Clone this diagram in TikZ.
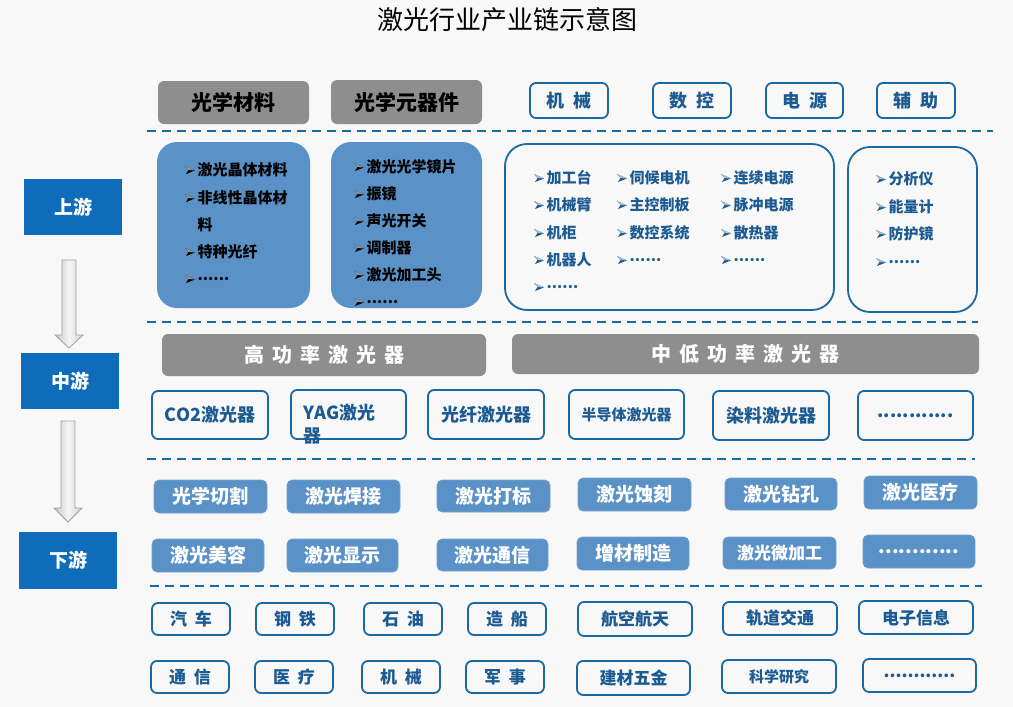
\documentclass[tikz,border=0pt]{standalone}
\usepackage{fontspec}
\newfontfamily\cjk{Noto Sans CJK SC}
\definecolor{bg}{HTML}{F8F8F8}
\definecolor{dblue}{HTML}{0F6CBA}
\definecolor{lblue}{HTML}{5A92C8}
\definecolor{oblue}{HTML}{1A69A2}
\definecolor{tblue}{HTML}{1C5A92}
\definecolor{gbar}{HTML}{8E8E8E}
\newcommand\fs[1]{\fontsize{#1}{#1}\selectfont}
\newcommand\mybox[7]{\node[#1, minimum width={#4-#2}, minimum height={#5-#3}, inner sep=0pt] (#6) at ({(#2+#4)/2},{(#3+#5)/2}) {#7};}
\newcommand\li[5]{\coordinate (#1b) at (#2,#3);
  \fill[#4] ($(#1b)+(-1,-4)$) -- ($(#1b)+(9,0.5)$) -- ($(#1b)+(0,4)$) -- ($(#1b)+(2.5,0)$) -- cycle;
  \fill[#4!40!white] ($(#1b)+(-1,-4)$) -- ($(#1b)+(9,0.5)$) -- ($(#1b)+(2.5,0)$) -- cycle;
  \node[itm, text=#4] (#1) at (#2+11.5,#3) {#5};}
\newcommand\sq{\hspace{8pt}}
\usetikzlibrary{calc}
\begin{document}
\begin{tikzpicture}[x=1pt,y=-1pt,
  lvl/.style={fill=dblue, text=white, font=\cjk\bfseries\fs{19}},
  ghead/.style={fill=gbar, rounded corners=6pt, text=black, font=\cjk\bfseries\fs{21}},
  gband/.style={fill=gbar, rounded corners=6pt, text=white, font=\cjk\bfseries\fs{20}},
  obox/.style={draw=oblue, line width=1.8pt, rounded corners=6pt, text=tblue, font=\cjk\bfseries\fs{18}},
  ibox/.style={obox, font=\cjk\bfseries\fs{17}},
  fbox/.style={fill=lblue, draw=lblue!85!white, line width=0.6pt, rounded corners=5pt, text=white, font=\cjk\bfseries\fs{19}},
  bigf/.style={fill=lblue, rounded corners=20pt},
  bigo/.style={draw=oblue, line width=1.8pt, rounded corners=22pt},
  itm/.style={font=\cjk\bfseries\fs{15}, inner sep=0pt, anchor=west},
  dline/.style={draw=oblue, line width=2.6pt, dash pattern=on 9pt off 6pt},
  garrow/.style={draw=gray!75, line width=0.8pt, left color=gray!45, right color=gray!35, middle color=gray!8}
]
\fill[bg] (0,0) rectangle (1013,707);
\useasboundingbox (0,0) rectangle (1013,707);

% title
\node[font=\cjk\fs{26}] (title) at (507,20) {激光行业产业链示意图};

% level blocks
\mybox{lvl}{24}{179}{122}{235}{up}{上游}
\mybox{lvl}{21}{353}{119}{409}{mid}{中游}
\mybox{lvl}{19}{532}{117}{589}{down}{下游}
\draw[garrow] (62,260) -- (76,260) -- (76,335) -- (83,335) -- (69,348) -- (55,335) -- (62,335) -- cycle;
\draw[garrow] (61,421) -- (75,421) -- (75,508) -- (82,508) -- (68,522) -- (54,508) -- (61,508) -- cycle;

% dashed separators
\draw[dline] (147,131) -- (993,131);
\draw[dline] (147,322) -- (978,322);
\draw[dline] (147,459) -- (975,459);
\draw[dline] (150,586) -- (982,586);

% top headers
\mybox{ghead}{158}{81}{309}{124}{h1}{光学材料}
\mybox{ghead}{331}{80}{482}{124}{h2}{光学元器件}
\mybox{obox}{530}{83}{608}{118}{h3}{机\hspace{9pt}械}
\mybox{obox}{653}{83}{731}{118}{h4}{数\hspace{9pt}控}
\mybox{obox}{766}{83}{843}{118}{h5}{电\hspace{9pt}源}
\mybox{obox}{877}{83}{955}{118}{h6}{辅\hspace{9pt}助}

% upstream boxes
\mybox{bigf}{157}{142}{310}{308}{ua}{}
\mybox{bigf}{331}{142}{482}{308}{ub}{}
\mybox{bigo}{505}{144}{834}{310}{uc}{}
\mybox{bigo}{848}{147}{977}{312}{ud}{}

\li{a1}{186}{170}{black}{激光晶体材料}
\li{a2}{186}{198}{black}{非线性晶体材}
\node[itm, text=black] (a3) at (197.5,225) {料};
\li{a4}{186}{252}{black}{特种光纤}
\li{a5}{186}{279}{black}{......}

\li{b1}{355}{167}{black}{激光光学镜片}
\li{b2}{355}{194}{black}{振镜}
\li{b3}{355}{221}{black}{声光开关}
\li{b4}{355}{248}{black}{调制器}
\li{b5}{355}{275}{black}{激光加工头}
\li{b6}{355}{302}{black}{......}

\li{c1}{535}{178}{tblue}{加工台}
\li{c2}{535}{205}{tblue}{机械臂}
\li{c3}{535}{233}{tblue}{机柜}
\li{c4}{535}{260}{tblue}{机器人}
\li{c5}{535}{287}{tblue}{......}
\li{c6}{618}{178}{tblue}{伺候电机}
\li{c7}{618}{205}{tblue}{主控制板}
\li{c8}{618}{233}{tblue}{数控系统}
\li{c9}{618}{260}{tblue}{......}
\li{c10}{722}{178}{tblue}{连续电源}
\li{c11}{722}{205}{tblue}{脉冲电源}
\li{c12}{722}{233}{tblue}{散热器}
\li{c13}{722}{260}{tblue}{......}

\li{d1}{877}{179}{tblue}{分析仪}
\li{d2}{877}{207}{tblue}{能量计}
\li{d3}{877}{234}{tblue}{防护镜}
\li{d4}{877}{262}{tblue}{......}

% midstream
\mybox{gband}{162}{334}{486}{376}{m1}{高\sq 功\sq 率\sq 激\sq 光\sq 器}
\mybox{gband}{512}{334}{979}{374}{m2}{中\sq 低\sq 功\sq 率\sq 激\sq 光\sq 器}
\mybox{obox}{152}{391}{268}{439}{l1}{CO2激光器}
\mybox{obox}{291}{390}{406}{439}{l2}{}
\node[obox, draw=none, inner sep=0pt, anchor=west] (l2a) at (303,413) {YAG激光};
\node[obox, draw=none, inner sep=0pt, anchor=west] (l2b) at (303,436) {器};
\mybox{obox}{428}{390}{544}{439}{l3}{光纤激光器}
\mybox{obox,font=\cjk\bfseries\fs{15}}{569}{390}{684}{439}{l4}{半导体激光器}
\mybox{obox}{713}{391}{829}{440}{l5}{染料激光器}
\mybox{obox}{858}{391}{973}{440}{l6}{............}

% downstream
\mybox{fbox}{154}{480}{267}{513}{f1}{光学切割}
\mybox{fbox}{287}{480}{400}{513}{f2}{激光焊接}
\mybox{fbox}{437}{480}{550}{512}{f3}{激光打标}
\mybox{fbox}{578}{478}{691}{511}{f4}{激光蚀刻}
\mybox{fbox}{725}{478}{837}{510}{f5}{激光钻孔}
\mybox{fbox}{864}{476}{977}{509}{f6}{激光医疗}
\mybox{fbox}{152}{539}{264}{572}{g1}{激光美容}
\mybox{fbox}{287}{539}{398}{572}{g2}{激光显示}
\mybox{fbox}{437}{539}{548}{571}{g3}{激光通信}
\mybox{fbox}{577}{537}{689}{570}{g4}{增材制造}
\mybox{fbox,font=\cjk\bfseries\fs{17}}{723}{537}{836}{569}{g5}{激光微加工}
\mybox{fbox}{863}{535}{975}{568}{g6}{............}

% industries
\mybox{ibox}{152}{603}{230}{635}{i1}{汽\hspace{8pt}车}
\mybox{ibox}{256}{603}{334}{635}{i2}{钢\hspace{8pt}铁}
\mybox{ibox}{364}{603}{442}{635}{i3}{石\hspace{8pt}油}
\mybox{ibox}{468}{603}{546}{635}{i4}{造\hspace{8pt}船}
\mybox{ibox}{578}{602}{692}{636}{i5}{航空航天}
\mybox{ibox}{723}{602}{837}{635}{i6}{轨道交通}
\mybox{ibox}{859}{601}{973}{634}{i7}{电子信息}
\mybox{ibox}{151}{661}{229}{693}{j1}{通\hspace{8pt}信}
\mybox{ibox}{255}{661}{333}{693}{j2}{医\hspace{8pt}疗}
\mybox{ibox}{362}{661}{440}{693}{j3}{机\hspace{8pt}械}
\mybox{ibox}{466}{661}{544}{693}{j4}{军\hspace{8pt}事}
\mybox{ibox}{577}{661}{690}{695}{j5}{建材五金}
\mybox{ibox,font=\cjk\bfseries\fs{15}}{722}{660}{836}{693}{j6}{科学研究}
\mybox{ibox}{863}{659}{976}{692}{j7}{............}
\end{tikzpicture}
\end{document}
